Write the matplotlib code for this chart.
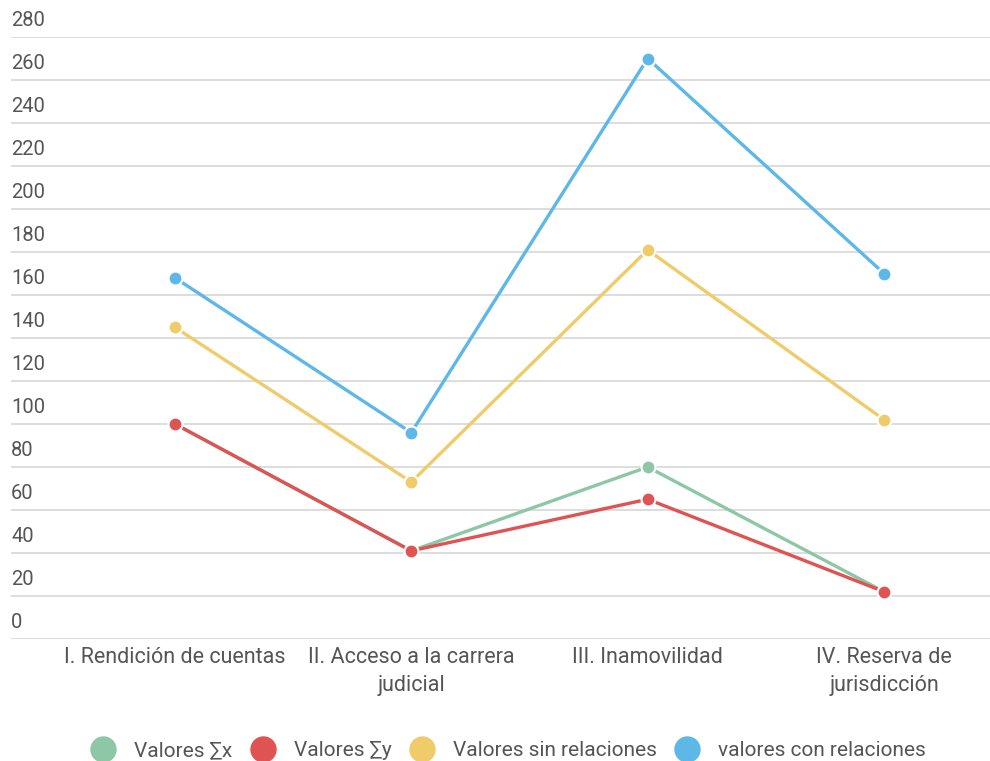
import matplotlib

matplotlib.use("Agg")
import matplotlib.pyplot as plt
from matplotlib.lines import Line2D

plt.rcParams["font.family"] = ["Roboto", "DejaVu Sans"]

# ─── data ────────────────────────────────────────────────────────────────────
categories = [
    "I. Rendición de cuentas",
    "II. Acceso a la carrera\njudicial",
    "III. Inamovilidad",
    "IV. Reserva de\njurisdicción",
]
sum_x = [100, 41, 80, 22]
sum_y = [100, 41, 65, 22]
sin_rel = [145, 73, 181, 102]
con_rel = [168, 96, 270, 170]

series_names = ["Valores ∑x", "Valores ∑y", "Valores sin relaciones", "valores con relaciones"]
y_ticks = list(range(0, 281, 20))

_COLORS = ["#8dc7a5", "#e05353", "#f0cb6a", "#5db8e8"]
_TEXT = "#555555"
_GRID = "#dddddd"

W, H = 990, 761
fig = plt.figure(figsize=(W / 100, H / 100), dpi=100)
left_px, right_px, top_px, bot_px = 11, 990, 37, 639
ax = fig.add_axes([left_px / W, 1 - bot_px / H, (right_px - left_px) / W, (bot_px - top_px) / H])
ax.set_ylim(0, 280)
# category centres sit at x=175 px with 236.5 px spacing
step = 236.5
ax.set_xlim(-(175 - left_px) / step, 3 + (right_px - 884) / step)
for s in ax.spines.values():
    s.set_visible(False)
ax.set_xticks([])
ax.set_yticks([])

for t in y_ticks:
    ax.axhline(t, color=_GRID, lw=1.4, zorder=0)
    ax.text(0.0, t + 3.2, str(t), transform=ax.get_yaxis_transform(),
            ha="left", va="bottom", fontsize=14.5, color=_TEXT)

xs = range(len(categories))
for vals, color in zip([sum_x, sum_y, sin_rel, con_rel], _COLORS):
    ax.plot(xs, vals, color=color, lw=2.4, marker="o", markersize=10,
            markeredgecolor="white", markeredgewidth=1.5, zorder=3, clip_on=False)

for i, lab in enumerate(categories):
    ax.text(i, -3.5, lab, ha="center", va="top", fontsize=15.5, color=_TEXT,
            linespacing=1.45)

handles = [Line2D([], [], lw=0, marker="o", markersize=18, color=c) for c in _COLORS]
fig.legend(handles, series_names, loc="center", bbox_to_anchor=(0.5 + 13 / W, 1 - 751 / H),
           ncol=4, frameon=False, fontsize=15, labelcolor=_TEXT,
           handletextpad=0.85, columnspacing=0.85, handlelength=1.25)

fig.savefig("out.png", dpi=100, facecolor="white")
